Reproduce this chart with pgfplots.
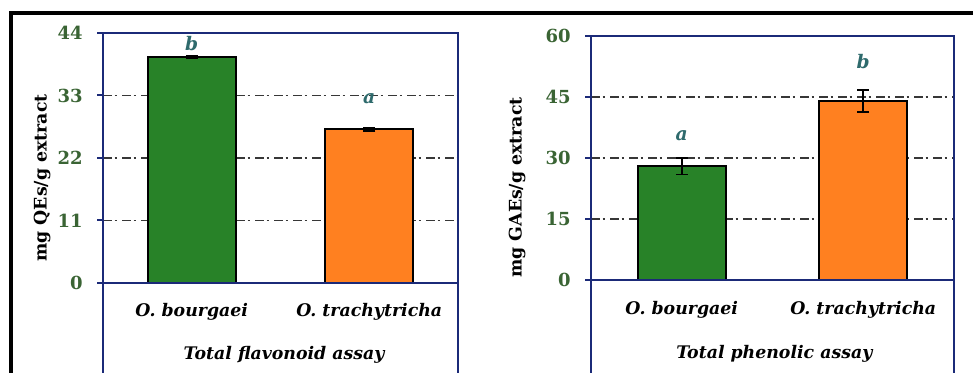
\documentclass[border=0pt]{standalone}
\usepackage{fontspec}
\setmainfont{DejaVu Serif}
\usepackage{pgfplots}
\pgfplotsset{compat=1.18}

\definecolor{axisnavy}{RGB}{27,42,120}
\definecolor{bargreen}{RGB}{40,130,40}
\definecolor{barorange}{RGB}{255,128,32}
\definecolor{tickgreen}{RGB}{58,100,52}
\definecolor{lettercol}{RGB}{46,106,108}
\definecolor{gridgray}{RGB}{55,55,55}

\newcommand{\ticksize}{\bfseries\fontsize{13.5}{13.5}\selectfont}
\newcommand{\catsize}{\bfseries\itshape\fontsize{13}{13}\selectfont}
\newcommand{\letsize}{\bfseries\itshape\fontsize{14}{14}\selectfont}
\newcommand{\ylabsize}{\bfseries\fontsize{13}{13}\selectfont}

\pgfplotsset{
  assaypanel/.style={
    scale only axis,
    anchor=north west,
    xmin=-0.5, xmax=1.5,
    xtick=\empty,
    axis line style={axisnavy, line width=1.5pt},
    tick pos=left,
    tick align=outside,
    major tick length=4.5pt,
    ytick style={axisnavy, line width=1.5pt},
    /pgf/number format/assume math mode=true,
    yticklabel style={text=tickgreen, font=\ticksize, inner sep=0pt, xshift=-10.5pt},
    ymajorgrids,
    grid style={gridgray, line width=0.9pt, dash pattern=on 6.4pt off 2.25pt on 1.5pt off 4.1pt},
    ybar, bar width=66pt,
    error bars/y dir=both, error bars/y explicit,
    error bars/error bar style={black, line width=1.2pt},
    error bars/error mark options={rotate=90, mark size=4.5pt, line width=1.2pt, black},
  },
}

\begin{document}
\begin{tikzpicture}
\useasboundingbox (0,0) rectangle (729.75pt,279pt);
\clip (0,0) rectangle (729.75pt,279pt);

% outer frame
\draw[black, line width=3pt] (8.6pt,-5pt) -- (8.6pt,269.25pt) -- (735pt,269.25pt);

% Total flavonoid content
\begin{axis}[assaypanel,
  at={(77.25pt,254.25pt)},
  width=266.25pt, height=262.06pt,
  ymin=-17.5, ymax=44,
  ytick={0,11,22,33,44},
]
\addplot[fill=bargreen, draw=black, line width=1.5pt, bar shift=0pt]
  coordinates {(0,39.8) +- (0,0.15)};
\addplot[fill=barorange, draw=black, line width=1.5pt, bar shift=0pt]
  coordinates {(1,27.1) +- (0,0.3)};
\draw[axisnavy, line width=1.5pt] (axis cs:-0.5,0) -- (axis cs:1.5,0);
\node[text=lettercol, font=\letsize] at (axis cs:0,42.2) {b};
\node[text=lettercol, font=\letsize] at (axis cs:1,32.4) {a};
\node[anchor=base, font=\catsize] at (axis cs:0,-5.98) {O. bourgaei};
\node[anchor=base, font=\catsize] at (axis cs:1,-5.98) {O. trachytricha};
\node[anchor=base, font=\catsize] at (axis cs:0.52,-13.55) {Total flavonoid assay};
\end{axis}
\node[rotate=90, font=\ylabsize] at (31.5pt,145.5pt) {mg QEs/g extract};

% Total phenolic content
\begin{axis}[assaypanel,
  at={(443.25pt,252pt)},
  width=272.25pt, height=259.25pt,
  ymin=-25, ymax=60,
  ytick={0,15,30,45,60},
]
\addplot[fill=bargreen, draw=black, line width=1.5pt, bar shift=0pt]
  coordinates {(0,28.0) +- (0,2.05)};
\addplot[fill=barorange, draw=black, line width=1.5pt, bar shift=0pt]
  coordinates {(1,44.0) +- (0,2.7)};
\draw[axisnavy, line width=1.5pt] (axis cs:-0.5,0) -- (axis cs:1.5,0);
\node[text=lettercol, font=\letsize] at (axis cs:0,35.4) {a};
\node[text=lettercol, font=\letsize] at (axis cs:1,53.6) {b};
\node[anchor=base, font=\catsize] at (axis cs:0,-8.6) {O. bourgaei};
\node[anchor=base, font=\catsize] at (axis cs:1,-8.6) {O. trachytricha};
\node[anchor=base, font=\catsize] at (axis cs:0.51,-19.2) {Total phenolic assay};
\end{axis}
\node[rotate=90, font=\ylabsize] at (387.75pt,138.4pt) {mg GAEs/g extract};
\end{tikzpicture}
\end{document}
